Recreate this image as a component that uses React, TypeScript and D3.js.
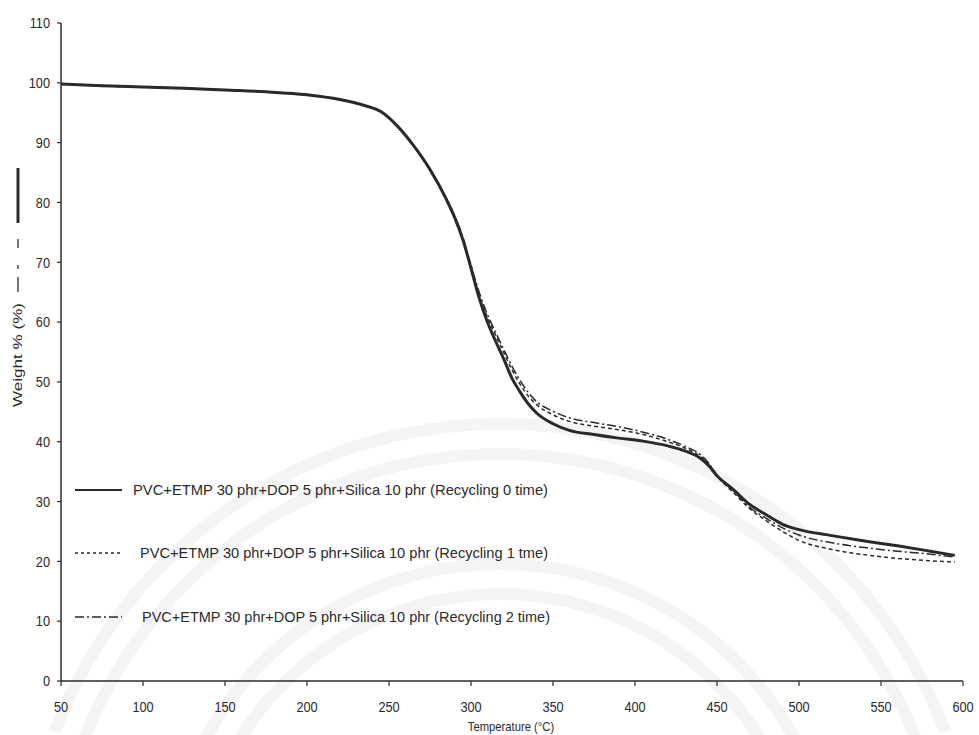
import React from "react";
import * as d3 from "d3";

const temps0 = [50, 75, 100, 125, 150, 175, 200, 220, 235, 245, 255, 265, 275, 285, 290, 295, 300, 305, 310, 315, 320, 325, 330, 335, 340, 350, 360, 375, 390, 405, 420, 430, 440, 445, 450, 460, 470, 480, 490, 500, 520, 540, 560, 580, 595];
const recycle0 = [99.8, 99.5, 99.3, 99.1, 98.8, 98.5, 98.0, 97.2, 96.2, 95.2, 92.8, 89.5, 85.5, 80.5, 77.5, 73.8, 69.0, 64.0, 60.0, 56.8, 53.8, 50.6, 48.3, 46.3, 44.8, 43.0, 41.9, 41.2, 40.6, 40.1, 39.3, 38.5, 37.2, 36.0, 34.3, 32.0, 29.5, 27.8, 26.2, 25.3, 24.3, 23.4, 22.6, 21.7, 21.0];
const recycle1 = [99.8, 99.5, 99.3, 99.1, 98.8, 98.5, 98.0, 97.2, 96.2, 95.2, 92.8, 89.5, 85.5, 80.6, 77.7, 74.0, 69.3, 64.5, 60.8, 57.8, 54.9, 52.0, 49.6, 47.6, 46.2, 44.5, 43.4, 42.6, 42.0, 41.2, 40.0, 39.0, 37.5, 36.2, 34.3, 31.5, 28.8, 26.8, 25.0, 23.5, 22.0, 21.1, 20.5, 20.1, 19.9];
const recycle2 = [99.8, 99.5, 99.3, 99.1, 98.8, 98.5, 98.0, 97.2, 96.2, 95.2, 92.8, 89.5, 85.5, 80.7, 77.8, 74.2, 69.5, 65.0, 61.3, 58.3, 55.4, 52.6, 50.2, 48.2, 46.7, 45.1, 44.0, 43.2, 42.5, 41.6, 40.4, 39.3, 37.8, 36.4, 34.4, 31.8, 29.0, 27.2, 25.6, 24.4, 23.1, 22.3, 21.7, 21.2, 20.7];

const xTicks = [50, 100, 150, 200, 250, 300, 350, 400, 450, 500, 550, 600];
const yTicks = [0, 10, 20, 30, 40, 50, 60, 70, 80, 90, 100, 110];

const seriesNames = [
  "PVC+ETMP 30 phr+DOP 5 phr+Silica 10 phr  (Recycling 0 time)",
  "PVC+ETMP 30 phr+DOP 5 phr+Silica 10 phr  (Recycling 1 tme)",
  "PVC+ETMP 30 phr+DOP 5 phr+Silica 10 phr  (Recycling 2 time)",
];

const INK = "#2a2a2a";
const FONT = "'Liberation Sans', Arial, sans-serif";

export default function App() {
  const x = d3.scaleLinear().domain([50, 600]).range([61, 963]);
  const y = d3.scaleLinear().domain([0, 110]).range([681, 23]);

  const line = d3
    .line<[number, number]>()
    .x((d) => x(d[0]))
    .y((d) => y(d[1]))
    .curve(d3.curveMonotoneX);

  const mk = (vals: number[]) => temps0.map((t, i) => [t, vals[i]] as [number, number]);

  const styles = [
    { w: 3, dash: "none", data: recycle0 },
    { w: 1.5, dash: "4,3", data: recycle1 },
    { w: 1.5, dash: "9,3,2,3", data: recycle2 },
  ];

  const legend = [
    { ly: 490, x1: 75, x2: 122, tx: 133, len: 415 },
    { ly: 553, x1: 75, x2: 122, tx: 140, len: 408 },
    { ly: 617, x1: 75, x2: 122, tx: 142, len: 408 },
  ];

  const arcCx = 500;
  const arcCy = 900;
  const arcRadii = [300, 330, 440, 470];

  return (
    <svg
      width={979}
      height={735}
      style={{ position: "absolute", left: 0, top: 0, background: "#fff" }}
      fontFamily={FONT}
    >
      <rect x={0} y={0} width={979} height={735} fill="#fff" />
      {/* faint watermark arcs */}
      {arcRadii.map((r, i) => (
        <path
          key={"arc" + i}
          d={d3.arc()({ innerRadius: r, outerRadius: r + 12, startAngle: -Math.PI / 2.6, endAngle: Math.PI / 2.6 }) as string}
          transform={`translate(${arcCx},${arcCy})`}
          fill="#f4f4f4"
        />
      ))}

      {/* axes */}
      <line x1={61} x2={61} y1={y(110)} y2={y(0)} stroke={INK} strokeWidth={1.5} />
      <line x1={61} x2={963} y1={y(0)} y2={y(0)} stroke={INK} strokeWidth={1.5} />
      {yTicks.map((t) => (
        <g key={"yt" + t}>
          <line x1={57} x2={61} y1={y(t)} y2={y(t)} stroke={INK} strokeWidth={1.2} />
          <text
            transform={`translate(50,${y(t)}) scale(0.85,1)`}
            dy="0.35em"
            textAnchor="end"
            fontSize={15}
            fill={INK}
          >
            {t}
          </text>
        </g>
      ))}
      {xTicks.map((t) => (
        <g key={"xt" + t}>
          <line x1={x(t)} x2={x(t)} y1={y(0)} y2={y(0) + 5} stroke={INK} strokeWidth={1.2} />
          <text
            transform={`translate(${x(t)},712) scale(0.85,1)`}
            textAnchor="middle"
            fontSize={15}
            fill={INK}
          >
            {t}
          </text>
        </g>
      ))}
      <text transform="translate(511,731) scale(0.9,1)" textAnchor="middle" fontSize={12.5} fill={INK}>
        Temperature (°C)
      </text>

      {/* y title with line sample */}
      <g>
        <line x1={18} x2={18} y1={168} y2={223} stroke={INK} strokeWidth={3} />
        <line x1={18} x2={18} y1={239} y2={248} stroke={INK} strokeWidth={1.3} />
        <line x1={18} x2={18} y1={265} y2={269} stroke={INK} strokeWidth={1.3} />
        <line x1={18} x2={18} y1={277} y2={292} stroke={INK} strokeWidth={1.3} />
        <text
          transform="translate(22,407) rotate(-90)"
          fontSize={13}
          fill={INK}
          textLength={104}
          lengthAdjust="spacingAndGlyphs"
        >
          Weight % (%)
        </text>
      </g>

      {/* curves */}
      {styles.map((s, i) => (
        <path
          key={"s" + i}
          d={line(mk(s.data)) as string}
          fill="none"
          stroke={INK}
          strokeWidth={s.w}
          strokeDasharray={s.dash}
        />
      ))}

      {/* legend */}
      {legend.map((l, i) => (
        <g key={"lg" + i}>
          <line
            x1={l.x1}
            x2={l.x2}
            y1={l.ly}
            y2={l.ly}
            stroke={INK}
            strokeWidth={i === 0 ? 2 : 1.3}
            strokeDasharray={i === 0 ? "none" : i === 1 ? "3,3" : "9,3,2,3"}
          />
          <text
            x={l.tx}
            y={l.ly}
            dy="0.35em"
            fontSize={15}
            fill={INK}
            textLength={l.len}
            lengthAdjust="spacingAndGlyphs"
          >
            {seriesNames[i]}
          </text>
        </g>
      ))}
    </svg>
  );
}
